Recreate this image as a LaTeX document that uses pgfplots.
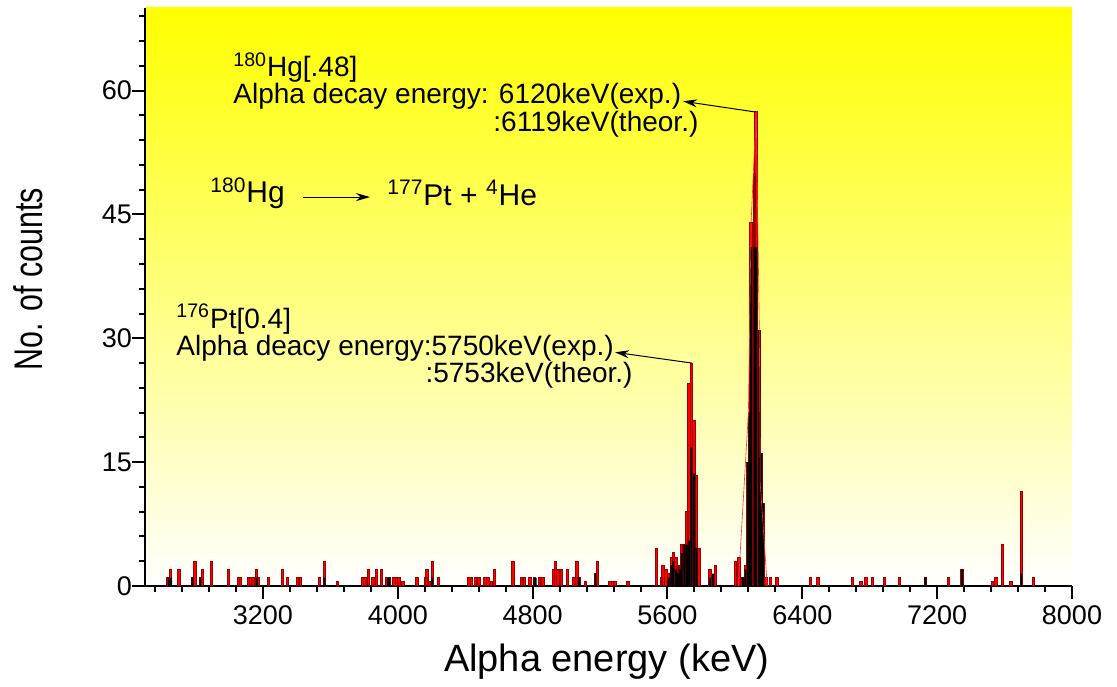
\documentclass[border=0pt]{standalone}
\usepackage{fontspec}
\setmainfont{Liberation Sans}
\usepackage{graphicx}
\usepackage{pgfplots}
\pgfplotsset{compat=1.18}
\usetikzlibrary{arrows.meta}
\tikzset{annot/.style={anchor=base west, inner sep=0pt, font=\fontsize{14}{14}\selectfont}}
\begin{document}
\begin{tikzpicture}
\path (0pt,0pt) rectangle (558.5pt,340pt);
\begin{axis}[
  scale only axis, width=463.5pt, height=289pt,
  at={(72.5pt,47pt)}, anchor=south west,
  xmin=2500, xmax=8000, ymin=0, ymax=70,
  axis lines*=left,
  axis line style={line width=1pt, black},
  tick style={line width=1pt, black},
  tick align=outside,
  major tick length=6.5pt, minor tick length=3.2pt,
  xtick={3200,4000,...,8000},
  minor xtick={2560,2720,...,7840},
  ytick={0,15,...,60},
  minor ytick={3,6,...,69},
  tick label style={font=\fontsize{13.5}{13.5}\selectfont},
  yticklabel style={xshift=3.5pt},
  /pgf/number format/assume math mode=true,
  /pgf/number format/1000 sep={},
  xlabel={Alpha energy (keV)},
  ylabel={\scalebox{0.76}[1]{No. of counts}},
  every axis x label/.style={at={(axis description cs:0.498,-0.131)}, anchor=center, font=\fontsize{19}{19}\selectfont},
  every axis y label/.style={at={(axis description cs:-0.1262,0.531)}, anchor=center, rotate=90, font=\fontsize{20}{20}\selectfont},
  axis background/.style={top color=yellow, bottom color=white},
]
% red histogram
\addplot[ybar, bar width=14, bar shift=0pt, fill=red, draw=red!60!black, line width=0.5pt] coordinates {
(2637,1)(2650,2)(2702,2)(2781,1)(2797,3)(2828,1)(2842,2)(2893,3)(2994,2)
(3053,1)(3068,1)(3113,1)(3125,1)(3142,1)(3163,2)(3175,1)(3231,1)(3315,2)(3344,1)
(3408,1)(3419,1)(3534,1)(3564,3)(3641,0.5)(3791,1)(3805,1)(3825,2)(3852,1)(3874,2)
(3903,2)(3933,1)(3951,1)(3977,1)(3992,1)(4006,1)(4030,0.5)(4113,1)(4167,1)(4174,2)
(4188,0.5)(4204,3)(4240,1)(4422,1)(4437,1)(4461,1)(4481,1)(4517,1)(4536,1)(4556,0.5)
(4574,2)(4683,3)(4732,1)(4752,1)(4784,1)(4811,1)(4839,1)(4861,1)(4924,2)(4934,3)
(4951,2)(4971,2)(5005,2)(5045,1)(5064,3)(5076,1)(5113,0.5)(5173,1.5)(5185,3)
(5258,0.5)(5272,0.5)(5289,0.5)(5365,0.5)(5534,4.6)(5565,1)(5574,2.5)(5592,2)
(5607,1.5)(5622,3.5)(5634,4)(5650,3.5)(5663,2.5)(5672,2.5)(5685,5)(5700,5)(5715,9)
(5728,24.5)(5742,27)(5758,20)(5773,13.4)(5788,4.6)(5853,2)(5870,1.3)(5885,2.5)
(6005,3)(6024,3.5)(6049,1)(6063,2.5)(6078,15)(6087,21)(6096,44)(6116,50)(6126,57.5)
(6145,31)(6158,16)(6167,10)(6185,1)(6212,1)(6250,1)(6448,1)(6492,1)(6699,1)(6749,0.5)
(6778,1)(6817,1)(6887,1)(6978,1)(7130,1)(7269,1)(7348,2)(7530,0.6)(7549,1)(7587,5)
(7638,0.5)(7699,11.5)(7770,1)
};
% black histogram
\addplot[ybar, bar width=11, bar shift=0pt, fill=black, draw=none] coordinates {
(2640,1)(2655,1)(2781,1)(2828,1)(3163,1)(3564,1)(3941,1)(3951,1)(4204,1)
(4811,1)(4818,1)(5076,1)(5173,1.5)
(5607,1)(5622,2.5)(5634,3)(5650,2)(5663,1.5)(5672,2)(5685,4)(5700,5)(5715,5)
(5728,5.5)(5742,16.8)(5758,13.6)(5773,4.6)(5853,1)(5870,1.5)
(6049,1)(6063,2)(6078,15)(6087,21)(6096,41)(6116,41)(6126,41)(6145,31)(6158,16)
(6167,10)(7130,1)(7348,2)(7699,1.5)
};
% thin fit line
\addplot[red!80, line width=0.3pt] coordinates {
(6020,0)(6080,21)(6096,44)(6126,57.5)(6145,31)(6150,12.5)(6192,0)
};
% annotations
\node[annot] at (axis cs:3022,61.7) {\textsuperscript{180}Hg[.48]};
\node[annot] at (axis cs:3022,58.4) {Alpha decay energy: 6120keV(exp.)};
\node[annot] at (axis cs:4565,55.0) {:6119keV(theor.)};
\draw[line width=0.5pt, -{Stealth[length=7pt,width=4pt]}] (axis cs:6122,57.4) -- (axis cs:5693,58.7);
\node[annot, font=\fontsize{15}{15}\selectfont] at (axis cs:2886,46.4) {\textsuperscript{180}Hg};
\draw[line width=0.5pt, -{Stealth[length=7pt,width=4pt]}] (axis cs:3438,47.1) -- (axis cs:3835,47.1);
\node[annot, font=\fontsize{15}{15}\selectfont] at (axis cs:3936,46.1) {\textsuperscript{177}Pt + \textsuperscript{4}He};
\node[annot] at (axis cs:2684,31.2) {\textsuperscript{176}Pt[0.4]};
\node[annot] at (axis cs:2684,27.9) {Alpha deacy energy:5750keV(exp.)};
\node[annot] at (axis cs:4162,24.6) {:5753keV(theor.)};
\draw[line width=0.5pt, -{Stealth[length=7pt,width=4pt]}] (axis cs:5744,27.0) -- (axis cs:5289,28.3);
\end{axis}
\end{tikzpicture}
\end{document}
